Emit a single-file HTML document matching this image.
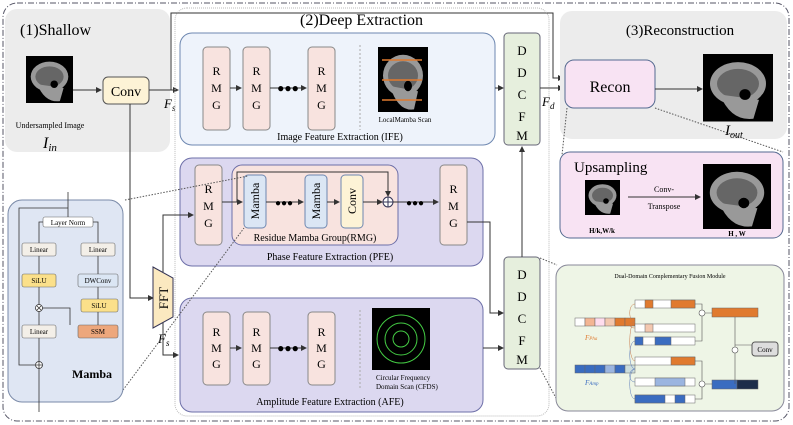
<!DOCTYPE html><html><head><style>body{margin:0;background:#fff}svg{display:block;font-family:"Liberation Serif",serif}</style></head><body>
<svg width="793" height="425" viewBox="0 0 793 425" xmlns="http://www.w3.org/2000/svg">
<defs>
<marker id="a" markerWidth="6" markerHeight="6" refX="5" refY="3" orient="auto"><path d="M0,0L6,3L0,6z" fill="#333"/></marker>
<g id="brain"><rect width="50" height="50" fill="#000"/><ellipse cx="25" cy="22" rx="20" ry="16" fill="#999"/><ellipse cx="25" cy="22" rx="15" ry="11" fill="#666"/><path d="M12,30 Q20,50 36,48 L40,34z" fill="#999"/><circle cx="30" cy="30" r="4" fill="#000"/></g>
</defs>
<rect x="3" y="3" width="786" height="418" rx="14" fill="none" stroke="#556" stroke-dasharray="6,2,1,2"/>
<!-- shallow -->
<rect x="5" y="9" width="165" height="143" rx="12" fill="#ececec"/>
<text x="20" y="35" font-size="16">(1)Shallow</text>
<use href="#brain" transform="translate(26,56) scale(0.94)"/>
<text x="50" y="128" font-size="8" text-anchor="middle">Undersampled Image</text>
<text x="50" y="148" font-size="16" font-style="italic" text-anchor="middle">I<tspan font-size="11" dy="3">in</tspan></text>
<rect x="103" y="77" width="46" height="27" rx="5" fill="#fdf3d6" stroke="#555"/>
<text x="126" y="96" font-size="14" text-anchor="middle">Conv</text>
<line x1="73" y1="90" x2="101" y2="90" stroke="#333" marker-end="url(#a)"/>
<line x1="149" y1="90" x2="178" y2="90" stroke="#333" marker-end="url(#a)"/>
<text x="164" y="108" font-size="13" font-style="italic">F<tspan font-size="9" dy="3">s</tspan></text>
<polyline points="171,90 171,13 553,13 553,78 563,78" fill="none" stroke="#333" marker-end="url(#a)"/>
<polyline points="130,104 130,298 153,298" fill="none" stroke="#333" marker-end="url(#a)"/>
<text x="158" y="343" font-size="13" font-style="italic">F<tspan font-size="9" dy="3">s</tspan></text>
<!-- deep -->
<rect x="175" y="8" width="374" height="408" rx="12" fill="none" stroke="#bbb" stroke-dasharray="1,1"/>
<text x="300" y="25" font-size="16">(2)Deep Extraction</text>
<!-- IFE -->
<rect x="180" y="33" width="315" height="112" rx="12" fill="#eef3fb" stroke="#6d87b0"/>
<g font-size="12" text-anchor="middle">
<rect x="203" y="47" width="27" height="83" rx="4" fill="#f8e3df" stroke="#888"/><text x="216.5" y="75">R</text><text x="216.5" y="92">M</text><text x="216.5" y="109">G</text>
<rect x="243" y="47" width="27" height="83" rx="4" fill="#f8e3df" stroke="#888"/><text x="256.5" y="75">R</text><text x="256.5" y="92">M</text><text x="256.5" y="109">G</text>
<rect x="308" y="47" width="27" height="83" rx="4" fill="#f8e3df" stroke="#888"/><text x="321.5" y="75">R</text><text x="321.5" y="92">M</text><text x="321.5" y="109">G</text>
</g>
<line x1="230" y1="88" x2="241" y2="88" stroke="#333" marker-end="url(#a)"/>
<line x1="270" y1="88" x2="306" y2="88" stroke="#333" marker-end="url(#a)"/>
<text x="288" y="92" font-size="12" font-weight="bold" text-anchor="middle">●●●</text>
<line x1="360" y1="45" x2="360" y2="130" stroke="#aaa" stroke-dasharray="2,2"/>
<use href="#brain" transform="translate(378,47) scale(1,1.3)"/>
<g stroke="#e07a2f" stroke-width="1.5"><line x1="382" y1="60" x2="422" y2="60"/><line x1="382" y1="80" x2="422" y2="80"/><line x1="382" y1="100" x2="422" y2="100"/></g>
<text x="405" y="122" font-size="7" text-anchor="middle">LocalMamba Scan</text>
<text x="340" y="140" font-size="10" text-anchor="middle">Image Feature Extraction (IFE)</text>
<line x1="495" y1="88" x2="503" y2="88" stroke="#333" marker-end="url(#a)"/>
<!-- PFE -->
<rect x="180" y="158" width="303" height="108" rx="12" fill="#dcd8f0" stroke="#6d6fa8"/>
<g font-size="12" text-anchor="middle">
<rect x="195" y="165" width="27" height="80" rx="4" fill="#f8e3df" stroke="#888"/><text x="208.5" y="193">R</text><text x="208.5" y="210">M</text><text x="208.5" y="227">G</text>
<rect x="440" y="165" width="27" height="80" rx="4" fill="#f8e3df" stroke="#888"/><text x="453.5" y="193">R</text><text x="453.5" y="210">M</text><text x="453.5" y="227">G</text>
</g>
<rect x="232" y="165" width="166" height="80" rx="10" fill="#f8e3df" stroke="#6d6fa8"/>
<rect x="244" y="175" width="22" height="53" rx="4" fill="#dbe6f4" stroke="#6d87b0"/>
<rect x="305" y="175" width="22" height="53" rx="4" fill="#dbe6f4" stroke="#6d87b0"/>
<rect x="341" y="175" width="22" height="53" rx="4" fill="#fdf3d6" stroke="#6d87b0"/>
<g font-size="12" text-anchor="middle"><text transform="translate(259,201) rotate(-90)">Mamba</text><text transform="translate(320,201) rotate(-90)">Mamba</text><text transform="translate(356,201) rotate(-90)">Conv</text></g>
<line x1="222" y1="202" x2="242" y2="202" stroke="#333" marker-end="url(#a)"/>
<polyline points="237,202 237,172 388,172 388,196" fill="none" stroke="#333" marker-end="url(#a)"/>
<line x1="266" y1="202" x2="303" y2="202" stroke="#333" marker-end="url(#a)"/>
<text x="284" y="206" font-size="10" font-weight="bold" text-anchor="middle">●●●</text>
<line x1="327" y1="202" x2="339" y2="202" stroke="#333" marker-end="url(#a)"/>
<line x1="363" y1="202" x2="382" y2="202" stroke="#333" marker-end="url(#a)"/>
<circle cx="388" cy="202" r="5" fill="#fff" stroke="#335"/><path d="M383,202h10M388,197v10" stroke="#335"/>
<line x1="393" y1="202" x2="438" y2="202" stroke="#333" marker-end="url(#a)"/>
<text x="415" y="206" font-size="10" font-weight="bold" text-anchor="middle">●●●</text>
<text x="315" y="241" font-size="10" text-anchor="middle">Residue Mamba Group(RMG)</text>
<text x="330" y="260" font-size="10" text-anchor="middle">Phase Feature Extraction (PFE)</text>
<polyline points="467,222 490,222 490,313 503,313" fill="none" stroke="#333" marker-end="url(#a)"/>
<!-- AFE -->
<rect x="180" y="298" width="303" height="114" rx="12" fill="#dcd8f0" stroke="#6d6fa8"/>
<g font-size="12" text-anchor="middle">
<rect x="203" y="312" width="27" height="73" rx="4" fill="#f8e3df" stroke="#888"/><text x="216.5" y="336">R</text><text x="216.5" y="352">M</text><text x="216.5" y="368">G</text>
<rect x="243" y="312" width="27" height="73" rx="4" fill="#f8e3df" stroke="#888"/><text x="256.5" y="336">R</text><text x="256.5" y="352">M</text><text x="256.5" y="368">G</text>
<rect x="308" y="312" width="27" height="73" rx="4" fill="#f8e3df" stroke="#888"/><text x="321.5" y="336">R</text><text x="321.5" y="352">M</text><text x="321.5" y="368">G</text>
</g>
<line x1="230" y1="348" x2="241" y2="348" stroke="#333" marker-end="url(#a)"/>
<line x1="270" y1="348" x2="306" y2="348" stroke="#333" marker-end="url(#a)"/>
<text x="288" y="352" font-size="12" font-weight="bold" text-anchor="middle">●●●</text>
<line x1="360" y1="310" x2="360" y2="390" stroke="#aaa" stroke-dasharray="2,2"/>
<rect x="372" y="308" width="58" height="62" fill="#000"/>
<g fill="none" stroke="#4c4"><circle cx="401" cy="339" r="24"/><circle cx="401" cy="339" r="16"/><circle cx="401" cy="339" r="8"/></g>
<text x="376" y="380" font-size="7">Circular Frequency</text><text x="376" y="389" font-size="7">Domain Scan (CFDS)</text>
<text x="330" y="405" font-size="10" text-anchor="middle">Amplitude Feature Extraction (AFE)</text>
<line x1="483" y1="348" x2="503" y2="348" stroke="#333" marker-end="url(#a)"/>
<!-- FFT -->
<polyline points="163,272 163,215 193,215" fill="none" stroke="#333" marker-end="url(#a)"/>
<polyline points="163,322 163,355 178,355" fill="none" stroke="#333" marker-end="url(#a)"/>
<polygon points="153,267 173,278 173,317 153,328" fill="#fbe9c0" stroke="#335"/>
<text transform="translate(168,298) rotate(-90)" font-size="13" text-anchor="middle">FFT</text>
<!-- DDCFM -->
<g font-size="13" text-anchor="middle">
<rect x="504" y="33" width="36" height="112" rx="4" fill="#e6efdd" stroke="#667"/>
<text x="522" y="55">D</text><text x="522" y="77">D</text><text x="522" y="99">C</text><text x="522" y="121">F</text><text x="522" y="140">M</text>
<rect x="504" y="257" width="36" height="112" rx="4" fill="#e6efdd" stroke="#667"/>
<text x="522" y="279">D</text><text x="522" y="301">D</text><text x="522" y="323">C</text><text x="522" y="345">F</text><text x="522" y="364">M</text>
</g>
<line x1="522" y1="257" x2="522" y2="147" stroke="#333" marker-end="url(#a)"/>
<polyline points="540,88 563,88" fill="none" stroke="#333" marker-end="url(#a)"/>
<text x="542" y="106" font-size="13" font-style="italic">F<tspan font-size="9" dy="3">d</tspan></text>
<!-- recon -->
<rect x="560" y="11" width="227" height="128" rx="12" fill="#ececec"/>
<text x="680" y="35" font-size="15" text-anchor="middle">(3)Reconstruction</text>
<rect x="565" y="60" width="90" height="48" rx="9" fill="#f8e3f3" stroke="#556a90"/>
<text x="610" y="92" font-size="16" text-anchor="middle">Recon</text>
<line x1="655" y1="89" x2="702" y2="89" stroke="#333" marker-end="url(#a)"/>
<use href="#brain" transform="translate(703,54) scale(1.4,1.35)"/>
<text x="725" y="135" font-size="15" font-style="italic">I<tspan font-size="10" dy="3">out</tspan></text>
<rect x="560" y="152" width="223" height="86" rx="10" fill="#f8e3f3" stroke="#556a90"/>
<text x="574" y="172" font-size="15">Upsampling</text>
<use href="#brain" transform="translate(585,180) scale(0.7)"/>
<text x="602" y="233" font-size="7" font-weight="bold" text-anchor="middle">H/k,W/k</text>
<line x1="628" y1="197" x2="700" y2="197" stroke="#333" marker-end="url(#a)"/>
<text x="664" y="192" font-size="8" text-anchor="middle">Conv-</text>
<text x="664" y="209" font-size="8" text-anchor="middle">Transpose</text>
<use href="#brain" transform="translate(703,164) scale(1.36,1.3)"/>
<text x="737" y="236" font-size="7" font-weight="bold" text-anchor="middle">H , W</text>
<g stroke="#555" stroke-dasharray="1.5,1.5" fill="none"><line x1="567" y1="108" x2="562" y2="155"/><line x1="655" y1="108" x2="783" y2="152"/><line x1="540" y1="258" x2="557" y2="265"/><line x1="540" y1="368" x2="557" y2="400"/><line x1="125" y1="200" x2="248" y2="176"/><line x1="123" y1="390" x2="244" y2="228"/></g>
<!-- DCFM module -->
<rect x="556" y="265" width="228" height="146" rx="12" fill="#eef5e6" stroke="#889"/>
<text x="670" y="278" font-size="6" text-anchor="middle">Dual-Domain Complementary Fusion Module</text>
<g stroke="#666" stroke-width="0.5">
<g transform="translate(575,318)"><rect width="10" height="8" fill="#fff"/><rect x="10" width="10" height="8" fill="#f3b593"/><rect x="20" width="10" height="8" fill="#fde"/><rect x="30" width="10" height="8" fill="#f3c8b0"/><rect x="40" width="10" height="8" fill="#e07a2f"/><rect x="50" width="10" height="8" fill="#e07a2f"/></g>
<g transform="translate(575,365)"><rect width="10" height="8" fill="#3a6cc0"/><rect x="10" width="10" height="8" fill="#3a6cc0"/><rect x="20" width="10" height="8" fill="#3a6cc0"/><rect x="30" width="10" height="8" fill="#9bb5e0"/><rect x="40" width="10" height="8" fill="#3a6cc0"/><rect x="50" width="10" height="8" fill="#cdd"/></g>
<g transform="translate(635,300)"><rect width="60" height="8" fill="#fff"/><rect x="10" width="8" height="8" fill="#e07a2f"/><rect x="36" width="24" height="8" fill="#e07a2f"/></g>
<g transform="translate(635,324)"><rect width="60" height="8" fill="#fff"/><rect x="10" width="8" height="8" fill="#f3c8b0"/></g>
<g transform="translate(635,337)"><rect width="60" height="8" fill="#fff"/><rect width="8" height="8" fill="#3a6cc0"/><rect x="20" width="16" height="8" fill="#3a6cc0"/></g>
<g transform="translate(635,357)"><rect width="60" height="8" fill="#fff"/><rect x="36" width="24" height="8" fill="#e07a2f"/></g>
<g transform="translate(635,378)"><rect width="60" height="8" fill="#fff"/><rect x="20" width="30" height="8" fill="#9bb5e0"/></g>
<g transform="translate(635,395)"><rect width="60" height="8" fill="#fff"/><rect width="30" height="8" fill="#3a6cc0"/><rect x="40" width="10" height="8" fill="#3a6cc0"/></g>
<g transform="translate(712,308)"><rect width="46" height="9" fill="#e07a2f"/></g>
<g transform="translate(712,380)"><rect width="25" height="9" fill="#3a6cc0"/><rect x="25" width="21" height="9" fill="#1d2d4a"/></g>
</g>
<g fill="none" stroke="#555" stroke-width="0.6"><path d="M695,304H702V313H712M695,341H702V313M695,361H702V384H712M695,399H702V384M735,317V384M735,345H760"/></g>
<g fill="none" stroke="#c87a4a" stroke-width="0.5"><path d="M635,322C628,322 628,304 635,304M635,322C628,322 628,328 635,328M635,322C628,322 628,361 635,361"/></g>
<g fill="none" stroke="#5a7ab8" stroke-width="0.5"><path d="M635,369C628,369 628,341 635,341M635,369C628,369 628,382 635,382M635,369C628,369 628,399 635,399"/></g>
<circle cx="702" cy="313" r="3" fill="#fff" stroke="#555" stroke-width="0.6"/><circle cx="702" cy="384" r="3" fill="#fff" stroke="#555" stroke-width="0.6"/><circle cx="735" cy="350" r="3" fill="#fff" stroke="#555" stroke-width="0.6"/>
<rect x="752" y="342" width="26" height="14" rx="3" fill="#ddd" stroke="#555"/><text x="765" y="352" font-size="7" text-anchor="middle">Conv</text>
<text x="585" y="340" font-size="7" fill="#e07a2f" font-style="italic">F<tspan font-size="5">Pha</tspan></text>
<text x="585" y="385" font-size="7" fill="#3a6cc0" font-style="italic">F<tspan font-size="5">Amp</tspan></text>
<!-- Mamba block -->
<rect x="8" y="200" width="115" height="202" rx="14" fill="#dfe6f3" stroke="#7a8aa8"/>
<g font-size="7" text-anchor="middle" stroke="#666" stroke-width="0.6">
<rect x="43" y="217" width="50" height="10" rx="2" fill="#fff"/>
<rect x="22" y="243" width="34" height="13" rx="2" fill="#f3efe8"/>
<rect x="81" y="243" width="34" height="13" rx="2" fill="#f3efe8"/>
<rect x="22" y="274" width="34" height="13" rx="2" fill="#fbe08a"/>
<rect x="78" y="274" width="40" height="13" rx="2" fill="#dbe6f4"/>
<rect x="81" y="299" width="37" height="13" rx="2" fill="#fbe08a"/>
<rect x="22" y="325" width="34" height="13" rx="2" fill="#f3efe8"/>
<rect x="78" y="325" width="40" height="13" rx="2" fill="#eda77c"/>
</g>
<g font-size="7" text-anchor="middle"><text x="68" y="225">Layer Norm</text><text x="39" y="252">Linear</text><text x="98" y="252">Linear</text><text x="39" y="283">SiLU</text><text x="98" y="283">DWConv</text><text x="99" y="308">SiLU</text><text x="39" y="334">Linear</text><text x="98" y="334">SSM</text></g>
<g fill="none" stroke="#333" stroke-width="0.8">
<path d="M68,192V217M43,222H39V243M93,222H98V243M39,256V274M98,256V274M98,287V299M98,312V325M39,287V305M39,311V325M39,338V362M39,368V412M70,325V308H42M68,208H19V365H35"/>
</g>
<circle cx="39" cy="308" r="3.5" fill="#fff" stroke="#333" stroke-width="0.8"/><path d="M37,306l4,4M41,306l-4,4" stroke="#333" stroke-width="0.8"/>
<circle cx="39" cy="365" r="3.5" fill="#fff" stroke="#333" stroke-width="0.8"/><path d="M35.5,365h7M39,361.5v7" stroke="#333" stroke-width="0.8"/>
<text x="72" y="378" font-size="12" font-weight="bold">Mamba</text>
</svg>
</body></html>
